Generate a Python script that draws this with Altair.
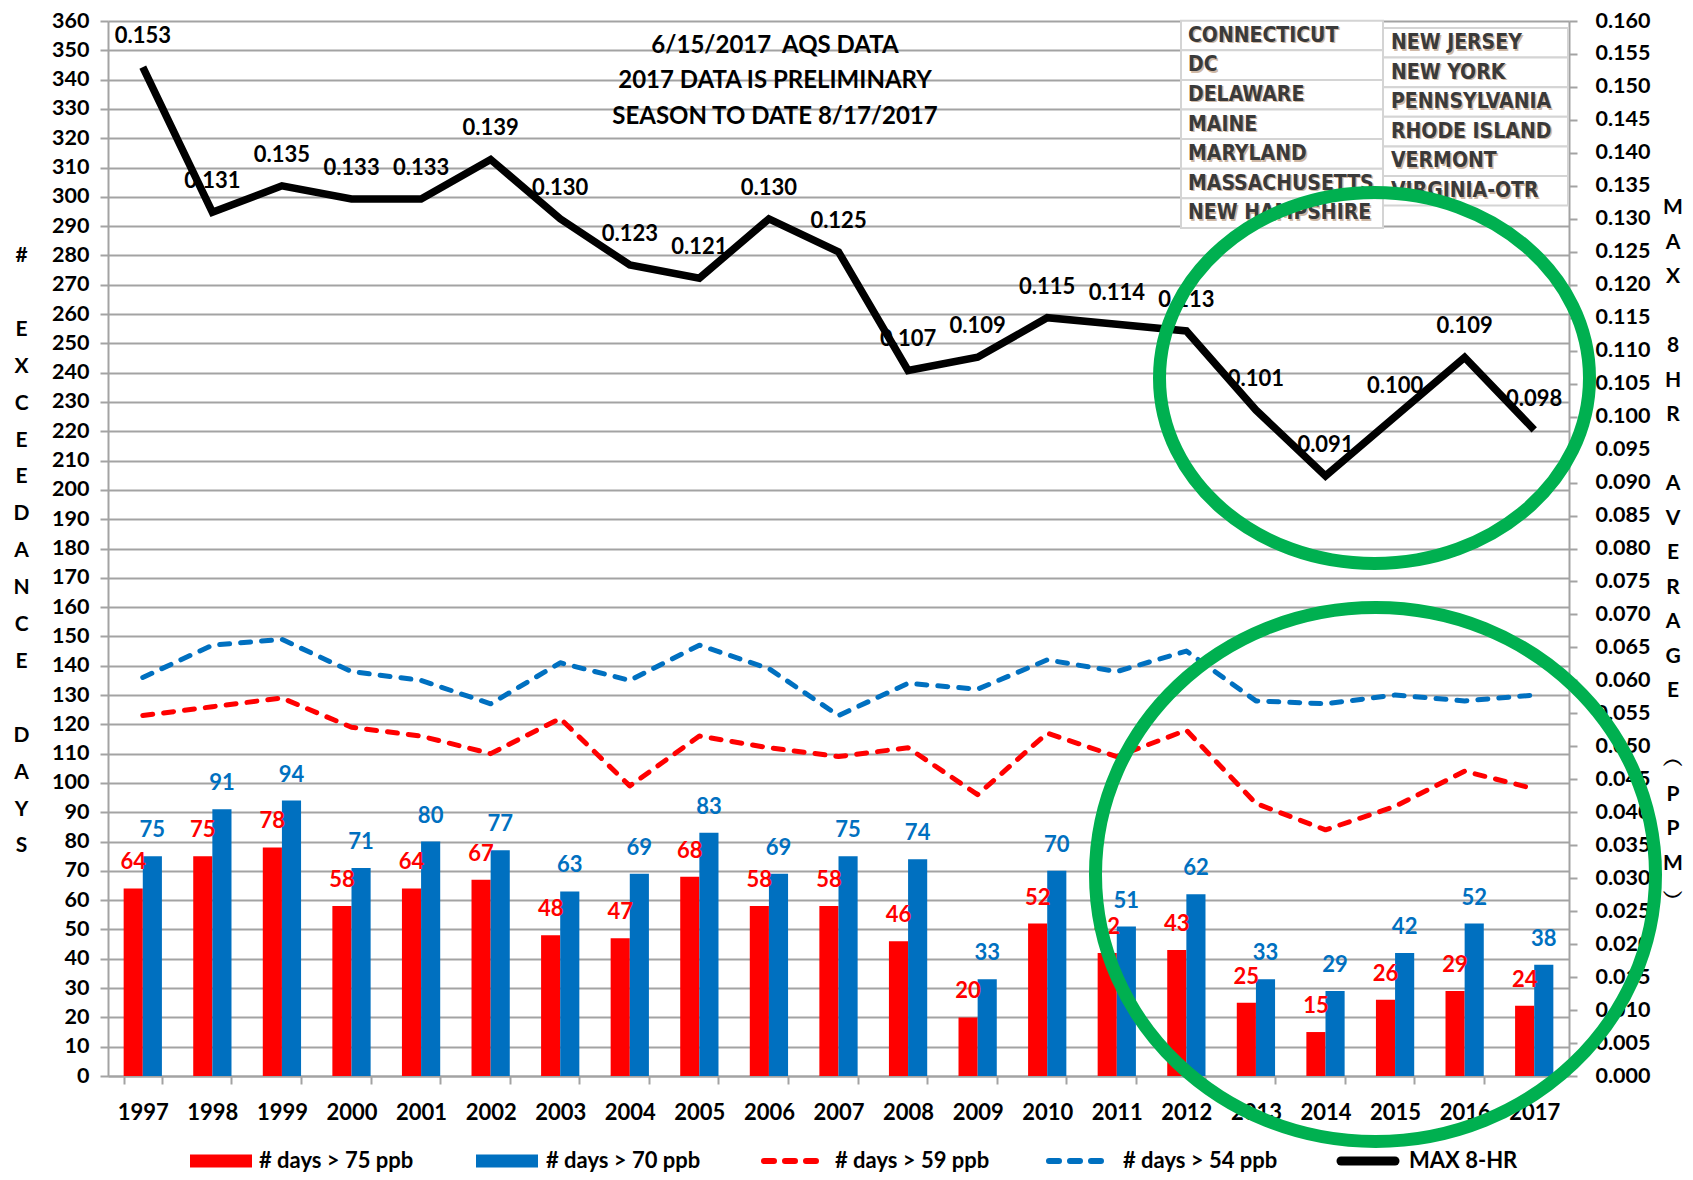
import altair as alt
import pandas as pd

# ---------------- data ----------------
years = [str(y) for y in range(1997, 2018)]
days_75 = [64, 75, 78, 58, 64, 67, 48, 47, 68, 58, 58, 46, 20, 52, 42, 43, 25, 15, 26, 29, 24]
days_70 = [75, 91, 94, 71, 80, 77, 63, 69, 83, 69, 75, 74, 33, 70, 51, 62, 33, 29, 42, 52, 38]
days_59 = [123, 126, 129, 119, 116, 110, 122, 99, 116, 112, 109, 112, 96, 117, 109, 118, 93, 84, 92, 104, 98]
days_54 = [136, 147, 149, 138, 135, 127, 141, 135, 147, 139, 123, 134, 132, 142, 138, 145, 128, 127, 130, 128, 130]
max_8hr = [0.153, 0.131, 0.135, 0.133, 0.133, 0.139, 0.130, 0.123, 0.121, 0.130, 0.125,
           0.107, 0.109, 0.115, 0.114, 0.113, 0.101, 0.091, 0.100, 0.109, 0.098]

series_names = ["# days > 75 ppb", "# days > 70 ppb", "# days > 59 ppb", "# days > 54 ppb", "MAX 8-HR"]
title_lines = ["6/15/2017\u00a0\u00a0AQS DATA", "2017 DATA IS PRELIMINARY", "SEASON TO DATE 8/17/2017"]
states_col1 = ["CONNECTICUT", "DC", "DELAWARE", "MAINE", "MARYLAND", "MASSACHUSETTS", "NEW HAMPSHIRE"]
states_col2 = ["NEW JERSEY", "NEW YORK", "PENNSYLVANIA", "RHODE ISLAND", "VERMONT", "VIRGINIA-OTR"]
# vertical axis titles, one character per line ("" = empty line)
left_title = ["#", "", "E", "X", "C", "E", "E", "D", "A", "N", "C", "E", "", "D", "A", "Y", "S"]
right_title = ["M", "A", "X", "", "8", "H", "R", "", "A", "V", "E", "R", "A", "G", "E", "",
               "\ufe35", "P", "P", "M", "\ufe36"]

# ---------------- layout / style ----------------
W, H = 1461, 1055
FONT = "Lato"
STATE_FONT = "Liberation Sans Narrow, DejaVu Sans Condensed, Lato"
RED, BLUE, GREEN, GRID = "#FF0000", "#0070C0", "#00B050", "#A3A3A3"

one = pd.DataFrame({"k": [0]})

bar_df = pd.DataFrame({
    "year": years * 2,
    "series": [series_names[0]] * len(years) + [series_names[1]] * len(years),
    "value": days_75 + days_70,
})
line_df = pd.DataFrame({"year": years, "d59": days_59, "d54": days_54, "mx": max_8hr})

xscale = alt.Scale(domain=years, paddingInner=0.45, paddingOuter=0.225)
left_scale = alt.Scale(domain=[0, 360], nice=False)
right_scale = alt.Scale(domain=[0, 0.16], nice=False)

x_axis = alt.Axis(title=None, labelAngle=0, tickBand="extent", tickSize=8, labelPadding=18,
                  domainColor=GRID, tickColor=GRID, grid=False)
y_axis = alt.Axis(values=list(range(0, 361, 10)), grid=True, tickSize=8, labelPadding=11,
                  labelOverlap=False, title=None, labelFontSize=21.5)
r_axis = alt.Axis(orient="right", values=[round(i * 0.005, 3) for i in range(33)], format=".3f",
                  grid=False, tickSize=8, labelPadding=18, labelOverlap=False, title=None,
                  labelFontSize=21.5)

X = alt.X("year:N", scale=xscale, axis=x_axis)
color = alt.Color("series:N", scale=alt.Scale(domain=series_names[:2], range=[RED, BLUE]), legend=None)
xoff = alt.XOffset("series:N", sort=series_names[:2], scale=alt.Scale(domain=series_names[:2]))

# vertical axis title letters (pixel layout)
title_rows = []
for i, ch in enumerate(left_title):
    if ch:
        title_rows.append({"ch": ch, "tx": -86.4, "ty": 235 + i * 36.9})
for i, ch in enumerate(right_title):
    if ch:
        title_rows.append({"ch": ch, "tx": 1565, "ty": 187 + i * 34.5})
axis_title_df = pd.DataFrame(title_rows)
axis_titles = alt.Chart(axis_title_df).mark_text(font=FONT, fontSize=21, fontWeight="bold",
                                                 align="center", baseline="middle",
                                                 color="black").encode(
    x=alt.X("tx:Q", scale=None), y=alt.Y("ty:Q", scale=None), text="ch:N")

# state table (pixel layout)
cells = []
for i, s in enumerate(states_col1):
    top = -0.3 + i * 29.6
    cells.append({"s": s, "x0": 1073, "x1": 1275, "y0": top, "y1": top + 29.6, "tx": 1080, "ty": top + 15})
for i, s in enumerate(states_col2):
    top = 7 + i * 29.6
    cells.append({"s": s, "x0": 1275, "x1": 1460, "y0": top, "y1": top + 29.6, "tx": 1283, "ty": top + 15})
cell_df = pd.DataFrame(cells)

cell_rects = alt.Chart(cell_df).mark_rect(fill="white", stroke="#D4D4D4", strokeWidth=2).encode(
    x=alt.X("x0:Q", scale=None), x2="x1:Q", y=alt.Y("y0:Q", scale=None), y2="y1:Q")
cell_shadow = alt.Chart(cell_df).mark_text(font=STATE_FONT, fontSize=21, fontWeight="bold",
                                           align="left", baseline="middle", color="#B08A6A",
                                           dx=1.5, dy=1.5, opacity=0.6).encode(
    x=alt.X("tx:Q", scale=None), y=alt.Y("ty:Q", scale=None), text="s:N")
cell_text = alt.Chart(cell_df).mark_text(font=STATE_FONT, fontSize=21, fontWeight="bold",
                                         align="left", baseline="middle", color="#3A3A3A").encode(
    x=alt.X("tx:Q", scale=None), y=alt.Y("ty:Q", scale=None), text="s:N")

YL = lambda f: alt.Y(f, scale=left_scale, axis=y_axis)
YR = lambda f: alt.Y(f, scale=right_scale, axis=r_axis)

bars = alt.Chart(bar_df).mark_bar().encode(x=X, xOffset=xoff, y=YL("value:Q"), color=color)
bar_labels = alt.Chart(bar_df).mark_text(font=FONT, fontSize=22, fontWeight="bold",
                                         baseline="bottom", dy=-14).encode(
    x=X, xOffset=xoff, y=YL("value:Q"), text="value:Q", color=color)

line59 = alt.Chart(line_df).mark_line(color=RED, strokeWidth=5, strokeDash=[10, 11],
                                      strokeCap="round", strokeJoin="round").encode(
    x=X, y=YL("d59:Q"))
line54 = alt.Chart(line_df).mark_line(color=BLUE, strokeWidth=5, strokeDash=[10, 11],
                                      strokeCap="round", strokeJoin="round").encode(
    x=X, y=YL("d54:Q"))

left_group = alt.layer(cell_rects, cell_shadow, cell_text, axis_titles, bars, bar_labels, line59, line54)

line_max = alt.Chart(line_df).mark_line(color="black", strokeWidth=7.5, strokeJoin="miter").encode(
    x=X, y=YR("mx:Q"))
max_labels = alt.Chart(line_df).mark_text(font=FONT, fontSize=22, fontWeight="bold",
                                          baseline="middle", dy=-31, color="black").encode(
    x=X, y=YR("mx:Q"), text=alt.Text("mx:Q", format=".3f"))

title_text = alt.Chart(one).mark_text(text=title_lines, font=FONT, fontSize=24, fontWeight="bold",
                                      align="center", baseline="middle", lineHeight=35.6,
                                      color="black").encode(x=alt.value(667), y=alt.value(24.5))

# legend
LY = 1140
leg_red = alt.Chart(one).mark_rect(color=RED).encode(
    x=alt.value(82), x2=alt.value(144), y=alt.value(LY - 6.5), y2=alt.value(LY + 6.5))
leg_blue = alt.Chart(one).mark_rect(color=BLUE).encode(
    x=alt.value(368), x2=alt.value(430), y=alt.value(LY - 6.5), y2=alt.value(LY + 6.5))
leg_59 = alt.Chart(one).mark_rule(color=RED, strokeWidth=6, strokeDash=[10, 11], strokeCap="round").encode(
    x=alt.value(656), x2=alt.value(712), y=alt.value(LY))
leg_54 = alt.Chart(one).mark_rule(color=BLUE, strokeWidth=6, strokeDash=[10, 11], strokeCap="round").encode(
    x=alt.value(941), x2=alt.value(997), y=alt.value(LY))
leg_max = alt.Chart(one).mark_rule(color="black", strokeWidth=9, strokeCap="round").encode(
    x=alt.value(1233), x2=alt.value(1287), y=alt.value(LY))
leg_text_df = pd.DataFrame({"label": series_names, "lx": [151, 438, 727, 1015, 1301]})
leg_text = alt.Chart(leg_text_df).mark_text(font=FONT, fontSize=22, fontWeight="bold", align="left",
                                            baseline="middle", color="black").encode(
    x=alt.X("lx:Q", scale=None), y=alt.value(LY), text="label:N")


def ellipse_path(r):
    k = 0.5523
    kr = round(k * r, 4)
    return (f"M 1 0 C 1 {kr} {k} {r} 0 {r} C {-k} {r} -1 {kr} -1 0 "
            f"C -1 {-kr} {-k} {-r} 0 {-r} C {k} {-r} 1 {-kr} 1 0 Z")


ell1 = alt.Chart(one).mark_point(shape=ellipse_path(round(185.5 / 215, 4)), size=430 ** 2,
                                 filled=False, stroke=GREEN, strokeWidth=13, opacity=1).encode(
    x=alt.value(1266.5), y=alt.value(357))
ell2 = alt.Chart(one).mark_point(shape=ellipse_path(round(267 / 280, 4)), size=560 ** 2,
                                 filled=False, stroke=GREEN, strokeWidth=13, opacity=1).encode(
    x=alt.value(1267.5), y=alt.value(853.5))

right_group = alt.layer(line_max, max_labels, title_text, leg_red, leg_blue, leg_59, leg_54,
                        leg_max, leg_text, ell1, ell2)

chart = alt.layer(left_group, right_group).resolve_scale(y="independent").properties(
    width=W, height=H,
    autosize=alt.AutoSizeParams(type="none"),
    padding={"left": 100, "top": 13, "right": 116, "bottom": 96},
).configure_axis(
    labelFont=FONT, labelFontSize=22, labelFontWeight="bold", labelColor="black",
    titleFont=FONT, titleFontWeight="bold", titleColor="black",
    domainColor=GRID, domainWidth=2, tickColor=GRID, tickWidth=2,
    gridColor=GRID, gridWidth=2,
).configure_view(stroke=None)

chart.save("out.html", embed_options={"renderer": "svg", "actions": False})
